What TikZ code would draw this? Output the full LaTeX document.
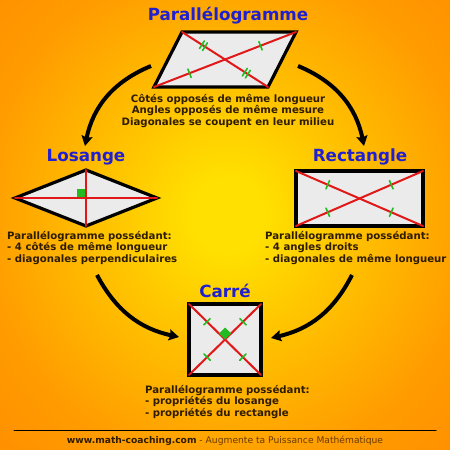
\documentclass[tikz,border=0pt]{standalone}
\usepackage{fontspec}
\setmainfont{DejaVu Sans}
\usetikzlibrary{arrows.meta,decorations.markings}
\definecolor{GlowCentre}{HTML}{FFE000}
\definecolor{GlowInner}{HTML}{FFC400}
\definecolor{GlowMid}{HTML}{FF9C00}
\definecolor{GlowEdge}{HTML}{FF8600}
\definecolor{TitleBlue}{HTML}{2020D0}
\definecolor{BodyInk}{HTML}{2E1C00}
\definecolor{FooterInk}{HTML}{6A3A00}
\definecolor{PaperGrey}{HTML}{EBEBEB}
\definecolor{DiagRed}{HTML}{E01818}
\definecolor{MarkGreen}{HTML}{22BB22}
\pgfdeclareradialshading{quadglow}{\pgfpoint{0bp}{0bp}}{%
    color(0bp)=(GlowCentre); color(4bp)=(GlowCentre);
    color(13bp)=(GlowInner); color(27bp)=(GlowMid);
    color(42bp)=(GlowEdge); color(50bp)=(GlowEdge)}
\tikzset{
    quad/diagram/.style={
        x=1bp, y=-1bp,
        line cap=round,
        line join=round
    },
    quad/title/.style={
        font=\fontsize{16.8}{18}\selectfont\bfseries,
        text=TitleBlue, inner sep=0pt
    },
    quad/text/.style={
        font=\fontsize{10.2}{11.6}\selectfont\bfseries,
        text=BodyInk, inner sep=0pt, align=left
    },
    quad/figure/.style={fill=PaperGrey, draw=black, line width=3.2bp, line join=miter},
    quad/diagonal/.style={draw=DiagRed, line width=2bp},
    quad/tick/.style={draw=MarkGreen, line width=1.6bp},
    quad/once/.style={
        postaction={decorate, decoration={markings,
            mark=at position 0.25 with {\draw[quad/tick] (0,-4.5) -- (0,4.5);},
            mark=at position 0.75 with {\draw[quad/tick] (0,-4.5) -- (0,4.5);}}}
    },
    quad/twice/.style={
        postaction={decorate, decoration={markings,
            mark=at position 0.25 with {\draw[quad/tick] (-1.8,-4.5) -- (-1.8,4.5) (1.8,-4.5) -- (1.8,4.5);},
            mark=at position 0.75 with {\draw[quad/tick] (-1.8,-4.5) -- (-1.8,4.5) (1.8,-4.5) -- (1.8,4.5);}}}
    },
    quad/right/.style={fill=MarkGreen, draw=none},
    quad/map/.style={
        draw=black, line width=4bp, line cap=butt,
        -{Stealth[length=10bp, width=11bp, inset=1.5bp]}
    }
}

\begin{document}
\begin{tikzpicture}[quad/diagram]
    \useasboundingbox (0,0) rectangle (450,450);
    % background glow
    \shade[shading=quadglow] (0,-20) rectangle (456,450);

    % parallelogramme
    \node[quad/title, anchor=base] (paraT) at (228,21) {Parallélogramme};
    \coordinate (pA) at (182,32);
    \coordinate (pB) at (296,32);
    \coordinate (pC) at (268,87);
    \coordinate (pD) at (154,87);
    \draw[quad/figure] (pA) -- (pB) -- (pC) -- (pD) -- cycle;
    \draw[quad/diagonal, quad/twice] (pA) -- (pC);
    \draw[quad/diagonal, quad/once] (pB) -- (pD);
    \node[quad/text, align=center, anchor=north] (paraP) at (228,94)
        {Côtés opposés de même longueur\\Angles opposés de même mesure\\Diagonales se coupent en leur milieu};

    % losange
    \node[quad/title, anchor=base] (losT) at (86,162) {Losange};
    \coordinate (lW) at (15,198);
    \coordinate (lN) at (86,170);
    \coordinate (lE) at (157,198);
    \coordinate (lS) at (86,226);
    \draw[quad/figure] (lW) -- (lN) -- (lE) -- (lS) -- cycle;
    \fill[quad/right] (77,189) rectangle (85,197);
    \draw[quad/diagonal] (lW) -- (lE);
    \draw[quad/diagonal] (lN) -- (lS);
    \node[quad/text, anchor=north west] (losP) at (7,231)
        {Parallélogramme possédant:\\- 4 côtés de même longueur\\- diagonales perpendiculaires};

    % rectangle
    \node[quad/title, anchor=base] (rectT) at (360,162) {Rectangle};
    \coordinate (rA) at (296,171);
    \coordinate (rB) at (423,171);
    \coordinate (rC) at (423,226);
    \coordinate (rD) at (296,226);
    \draw[quad/figure] (rA) rectangle (rC);
    \draw[quad/diagonal, quad/once] (rA) -- (rC);
    \draw[quad/diagonal, quad/once] (rB) -- (rD);
    \node[quad/text, anchor=north west] (rectP) at (265,231)
        {Parallélogramme possédant:\\- 4 angles droits\\- diagonales de même longueur};

    % carre
    \node[quad/title, anchor=base] (carT) at (225,297) {Carré};
    \coordinate (cA) at (189,304);
    \coordinate (cB) at (261,304);
    \coordinate (cC) at (261,375);
    \coordinate (cD) at (189,375);
    \draw[quad/figure] (cA) rectangle (cC);
    \draw[quad/diagonal, quad/once] (cA) -- (cC);
    \draw[quad/diagonal, quad/once] (cB) -- (cD);
    \fill[quad/right] (225,339.5) -- (231,333.5) -- (225,327.5) -- (219,333.5) -- cycle;
    \node[quad/text, anchor=north west] (carP) at (145,385)
        {Parallélogramme possédant:\\- propriétés du losange\\- propriétés du rectangle};

    % arrows
    \coordinate (paraL) at (151,66);
    \coordinate (paraR) at (298,66);
    \coordinate (losIn) at (85,146);
    \coordinate (rectIn) at (364,146);
    \coordinate (losOut) at (97,275);
    \coordinate (rectOut) at (352,275);
    \coordinate (carL) at (179,337);
    \coordinate (carR) at (271,338);
    \draw[quad/map] (paraL) to[bend right=28] (losIn);
    \draw[quad/map] (paraR) to[bend left=28] (rectIn);
    \draw[quad/map] (losOut) to[bend right=25] (carL);
    \draw[quad/map] (rectOut) to[bend left=25] (carR);

    % footer
    \coordinate (footL) at (14,430);
    \coordinate (footR) at (436,430);
    \draw[line width=1bp] (footL) -- (footR);
    \node[anchor=base, inner sep=0pt, font=\fontsize{9.2}{10}\selectfont, text=FooterInk] (foot) at (225,443)
        {\textcolor{BodyInk}{\bfseries www.math-coaching.com} - Augmente ta Puissance Mathématique};
\end{tikzpicture}
\end{document}
